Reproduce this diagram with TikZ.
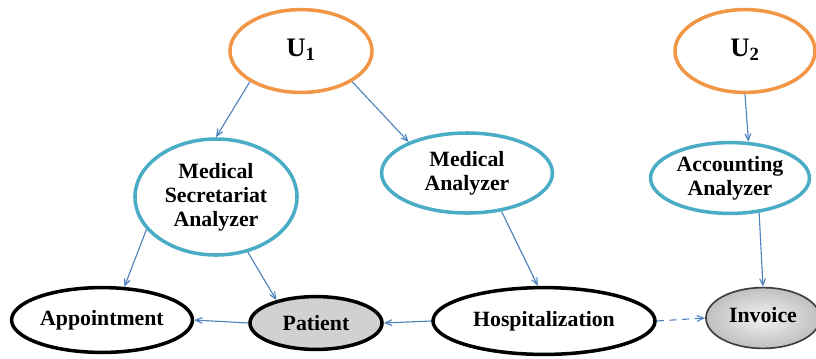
\documentclass[tikz,border=0pt]{standalone}
\usepackage{fontspec}
\setmainfont{Liberation Serif}
\usepackage{tikz}
\usetikzlibrary{shapes.geometric}
\usetikzlibrary{arrows}

\definecolor{userorange}{RGB}{240,150,70}
\definecolor{analyzerblue}{RGB}{75,172,198}
\definecolor{linkblue}{RGB}{79,129,189}

\begin{document}
\begin{tikzpicture}[->,>=angle 45,x=0.025cm,y=-0.025cm]
    \tikzstyle{every node}=[ellipse, line width=2.5pt, inner sep=0pt, align=center, font=\bfseries\fontsize{15.5}{17}\selectfont]
    \tikzstyle{user}=[draw=userorange, font=\bfseries\fontsize{19}{21}\selectfont]
    \tikzstyle{analyzer}=[draw=analyzerblue]
    \tikzstyle{entity}=[draw=black]
    \tikzstyle{every edge}=[draw, linkblue, line width=0.8pt]
    \useasboundingbox (0,0) rectangle (816,358);

    \node[user, minimum width=3.55cm, minimum height=2.07cm] (u1) at (301,51) {\raisebox{4pt}{U\textsubscript{1}}};
    \node[user, minimum width=3.5cm, minimum height=2.07cm] (u2) at (745,51) {\raisebox{4pt}{U\textsubscript{2}}};
    \node[analyzer, minimum width=4.05cm, minimum height=2.9cm] (msa) at (216,197) {Medical\\Secretariat\\Analyzer};
    \node[analyzer, minimum width=4.27cm, minimum height=2cm] (ma) at (467,173) {Medical\\Analyzer};
    \node[analyzer, minimum width=3.97cm, minimum height=1.77cm] (aa) at (730,178) {Accounting\\Analyzer};
    \node[entity, minimum width=4.52cm, minimum height=1.62cm] (appt) at (102,320) {Appointment};
    \node[entity, fill=black!18, minimum width=3.3cm, minimum height=1.32cm] (pat) at (316,323) {Patient};
    \node[entity, minimum width=5.55cm, minimum height=1.67cm] (hosp) at (544,321) {Hospitalization};
    \node[draw=black!75, line width=1.2pt, shade, inner color=black!5, outer color=black!25, minimum width=2.85cm, minimum height=1.52cm] (inv) at (763,318) {\raisebox{5pt}{Invoice}};

    \path
        (u1.211) edge (msa.north)
        (u1.329) edge (ma.152)
        (u2.south) edge (aa.63)
        (msa.205) edge (appt.56)
        (msa.300) edge (pat.150)
        (ma.312) edge (hosp.100)
        (aa.310) edge (inv.north)
        (pat.west) edge (appt.east)
        (hosp.west) edge (pat.east)
        (hosp.east) edge [dash pattern=on 5pt off 4pt] (inv.west)
    ;
\end{tikzpicture}
\end{document}
